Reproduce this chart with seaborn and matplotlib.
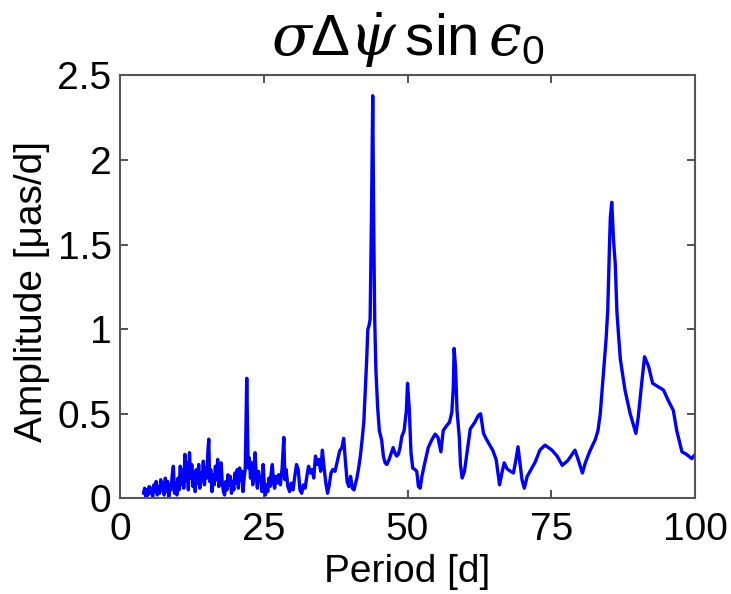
import matplotlib
matplotlib.use("Agg")
import matplotlib.pyplot as plt
import seaborn as sns
import pandas as pd

period = [4.1, 4.3, 4.5, 4.7, 4.9, 5.1, 5.3, 5.5, 5.7, 5.9, 6.1, 6.3, 6.5, 6.7, 6.9, 7.1, 7.3, 7.5, 7.7, 7.9,
          8.1, 8.3, 8.5, 8.7, 8.9, 9.1, 9.3, 9.5, 9.7, 9.9, 10.1, 10.3, 10.5, 10.7, 10.9, 11.1, 11.3, 11.5, 11.7, 11.9,
          12.1, 12.3, 12.5, 12.7, 12.9, 13.1, 13.3, 13.5, 13.7, 13.9, 14.1, 14.3, 14.5, 14.7, 14.9, 15.1, 15.3, 15.45, 15.6, 15.8,
          16.0, 16.2, 16.4, 16.6, 16.8, 17.0, 17.2, 17.4, 17.6, 17.8, 18.0, 18.2, 18.4, 18.6, 18.8, 19.0, 19.2, 19.4, 19.6, 19.8,
          20.0, 20.2, 20.4, 20.6, 20.8, 21.0, 21.2, 21.4, 21.6, 21.8, 22.05, 22.3, 22.5, 22.7, 22.9, 23.1, 23.3, 23.5, 23.7, 23.9,
          24.1, 24.3, 24.5, 24.7, 24.9, 25.1, 25.3, 25.5, 25.7, 25.9, 26.1, 26.3, 26.5, 26.7, 26.9, 27.1, 27.3, 27.6, 27.9, 28.2,
          28.5, 28.7, 28.9, 29.2, 29.5, 29.8, 30.1, 30.4, 30.7, 31.0, 31.3, 31.6, 31.9, 32.2, 32.5, 32.8, 33.1, 33.4, 33.7, 34.0,
          34.3, 34.6, 34.9, 35.2, 35.5, 35.8, 36.1, 36.4, 36.7, 37.0, 37.4, 37.8, 38.2, 38.6, 38.9, 39.2, 39.5, 39.8, 40.1, 40.4,
          40.7, 40.9, 41.2, 41.5, 41.8, 42.1, 42.4, 42.6, 42.9, 43.1, 43.3, 43.5, 43.75, 43.95, 44.15, 44.3, 44.5, 44.8, 45.1, 45.5,
          45.8, 46.1, 46.4, 46.8, 47.2, 47.5, 47.8, 48.1, 48.4, 48.7, 49.0, 49.4, 49.8, 50.0, 50.3, 50.6, 50.9, 51.3, 51.6, 51.9,
          52.2, 52.5, 53.0, 53.6, 54.2, 54.8, 55.3, 55.8, 56.2, 56.8, 57.3, 57.7, 57.95, 58.1, 58.35, 58.6, 59.0, 59.2, 59.5, 59.9,
          60.4, 60.9, 61.7, 62.3, 62.7, 63.2, 63.7, 64.3, 64.8, 65.4, 66.0, 66.4, 66.8, 67.3, 67.9, 68.4, 68.8, 69.2, 69.5, 69.9,
          70.3, 70.8, 71.3, 72.2, 73.0, 73.9, 75.1, 76.0, 76.9, 77.9, 79.1, 79.7, 80.4, 80.9, 81.7, 82.6, 83.1, 83.5, 84.1, 84.5,
          84.8, 84.95, 85.1, 85.25, 85.5, 85.8, 86.1, 86.4, 86.7, 87.0, 87.8, 88.7, 89.7, 90.1, 90.7, 91.2, 91.9, 92.6, 93.3, 94.5,
          95.3, 96.2, 96.8, 97.7, 98.5, 99.4, 100.0]

amplitude = [0.03, 0.06, 0.01, 0.05, 0.02, 0.07, 0.03, 0.06, 0.01, 0.08, 0.04, 0.10, 0.02, 0.07, 0.03, 0.11, 0.05, 0.09, 0.02, 0.12,
             0.04, 0.10, 0.01, 0.08, 0.05, 0.14, 0.19, 0.03, 0.09, 0.02, 0.12, 0.05, 0.19, 0.08, 0.17, 0.06, 0.26, 0.10, 0.21, 0.05,
             0.27, 0.12, 0.20, 0.07, 0.16, 0.04, 0.17, 0.09, 0.20, 0.06, 0.15, 0.10, 0.22, 0.08, 0.18, 0.12, 0.28, 0.35, 0.10, 0.17,
             0.04, 0.14, 0.08, 0.19, 0.11, 0.23, 0.07, 0.15, 0.21, 0.09, 0.04, 0.02, 0.10, 0.05, 0.14, 0.08, 0.13, 0.03, 0.10, 0.05,
             0.15, 0.09, 0.17, 0.06, 0.18, 0.11, 0.16, 0.04, 0.12, 0.18, 0.71, 0.18, 0.24, 0.12, 0.21, 0.08, 0.17, 0.27, 0.14, 0.06,
             0.16, 0.10, 0.13, 0.04, 0.20, 0.09, 0.02, 0.08, 0.04, 0.12, 0.07, 0.15, 0.20, 0.09, 0.06, 0.13, 0.09, 0.14, 0.08, 0.18,
             0.36, 0.11, 0.17, 0.07, 0.04, 0.09, 0.05, 0.13, 0.20, 0.17, 0.05, 0.03, 0.08, 0.06, 0.13, 0.19, 0.15, 0.17, 0.12, 0.25,
             0.20, 0.23, 0.16, 0.285, 0.18, 0.09, 0.03, 0.08, 0.15, 0.17, 0.16, 0.22, 0.28, 0.30, 0.355, 0.22, 0.10, 0.07, 0.13, 0.06,
             0.05, 0.08, 0.12, 0.18, 0.25, 0.345, 0.45, 0.60, 0.82, 1.00, 1.02, 1.06, 1.72, 2.38, 1.51, 1.05, 0.76, 0.54, 0.40, 0.345,
             0.25, 0.21, 0.20, 0.23, 0.27, 0.30, 0.27, 0.25, 0.26, 0.30, 0.365, 0.40, 0.52, 0.68, 0.53, 0.27, 0.18, 0.17, 0.16, 0.07,
             0.06, 0.13, 0.21, 0.30, 0.345, 0.38, 0.36, 0.275, 0.40, 0.43, 0.45, 0.51, 0.65, 0.886, 0.77, 0.52, 0.36, 0.20, 0.12, 0.16,
             0.285, 0.41, 0.45, 0.49, 0.50, 0.385, 0.35, 0.315, 0.285, 0.23, 0.08, 0.15, 0.21, 0.175, 0.16, 0.15, 0.22, 0.305, 0.22, 0.11,
             0.06, 0.13, 0.16, 0.215, 0.285, 0.315, 0.285, 0.25, 0.195, 0.225, 0.285, 0.225, 0.15, 0.21, 0.28, 0.345, 0.40, 0.50, 0.76, 0.935,
             1.11, 1.31, 1.49, 1.66, 1.75, 1.53, 1.39, 1.10, 0.955, 0.82, 0.64, 0.50, 0.384, 0.48, 0.68, 0.837, 0.78, 0.68, 0.665, 0.64,
             0.58, 0.52, 0.40, 0.275, 0.26, 0.235, 0.26]

x_ticks = [0, 25, 50, 75, 100]
y_ticks = [0, 0.5, 1, 1.5, 2, 2.5]
y_ticklabels = ["0", "0.5", "1", "1.5", "2", "2.5"]

sns.set_theme(style="white")
plt.rcParams["font.family"] = ["Liberation Sans", "DejaVu Sans"]
plt.rcParams["mathtext.fontset"] = "custom"
plt.rcParams["mathtext.rm"] = "Liberation Sans"
plt.rcParams["mathtext.it"] = "DejaVu Serif:italic"
plt.rcParams["mathtext.bf"] = "Liberation Sans:bold"

df = pd.DataFrame({"Period": period, "Amplitude": amplitude})

fig = plt.figure(figsize=(7.31, 5.94), dpi=100)
ax = fig.add_axes([0.164, 0.161, 0.787, 0.712])
sns.lineplot(data=df, x="Period", y="Amplitude", ax=ax, color="#0000ff",
             linewidth=2.4, estimator=None, sort=False)

ax.set_xlim(0, 100)
ax.set_ylim(0, 2.5)
ax.set_xticks(x_ticks)
ax.set_xticklabels([str(t) for t in x_ticks])
ax.set_yticks(y_ticks)
ax.set_yticklabels(y_ticklabels)
ax.tick_params(direction="in", length=6, width=1.2, color="#333333",
               labelsize=28, labelcolor="black", top=True, right=True,
               bottom=True, left=True)
ax.tick_params(axis="y", pad=6)
ax.tick_params(axis="x", pad=10)
for s in ax.spines.values():
    s.set_color("#555555")
    s.set_linewidth(1.5)
    s.set_visible(True)

ax.set_xlabel("Period [d]", fontsize=28, color="black", labelpad=4)
ax.set_ylabel("Amplitude [\u03bcas/d]", fontsize=28, color="black")
ax.yaxis.set_label_coords(-0.122, 0.49)
ax.set_title("$\\sigma\\Delta\\dot{\\psi}\\,\\mathrm{sin}\\,\u03f5_0$", fontsize=42, color="black", pad=14)

fig.savefig("out.png", dpi=100, facecolor="white")
